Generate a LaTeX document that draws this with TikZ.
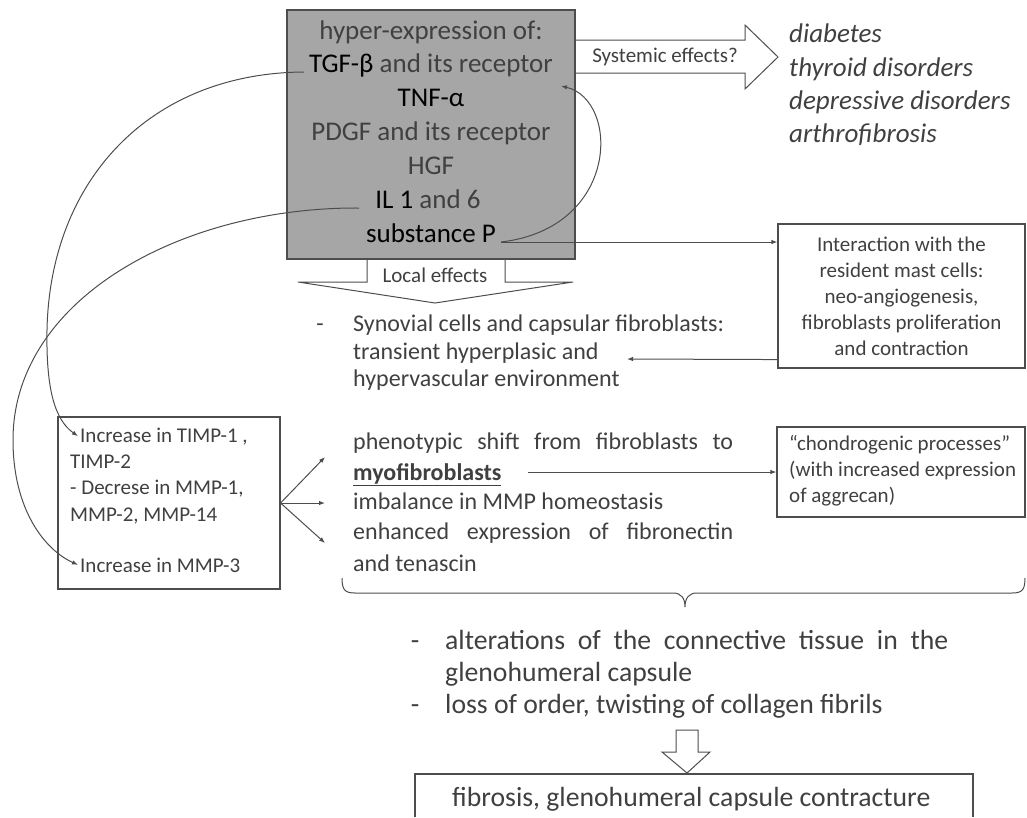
\documentclass[tikz,border=0pt]{standalone}
\usepackage{fontspec}
\setmainfont{Carlito}
\usetikzlibrary{arrows.meta}

\definecolor{txtgray}{HTML}{404040}
\definecolor{boxgray}{HTML}{A6A6A6}
\definecolor{linegray}{HTML}{4D4D4D}

\newcommand{\fsBig}{\fontsize{27}{33.3}\selectfont}
\newcommand{\fsLow}{\fontsize{27.7}{32}\selectfont}
\newcommand{\fsMid}{\fontsize{24}{30}\selectfont}
\newcommand{\fsSmall}{\fontsize{21}{26}\selectfont}
\newcommand{\fsTag}{\fontsize{21}{24}\selectfont}

\begin{document}
\begin{tikzpicture}[x=1pt,y=-1pt,
    every node/.style={text=txtgray, inner sep=0pt},
    plainbox/.style={draw=linegray, line width=1.1pt},
    conn/.style={draw=linegray, line width=1pt, -{Latex[length=6pt,width=4.5pt]}},
    hollow/.style={draw=linegray, line width=1pt, line join=miter}]

    \useasboundingbox (0,0) rectangle (1027,817);

    % Factors box
    \node[plainbox, fill=boxgray, minimum width=288pt, minimum height=249pt] (factors) at (431,134.5) {};
    \node[font=\fsBig, anchor=base] (hyp) at (431,39) {hyper-expression of:};
    \node[font=\fsBig, anchor=base] (tgf) at (431,72) {\textcolor{black}{TGF-β} and its receptor};
    \node[font=\fsBig, anchor=base, text=black] (tnf) at (431,106) {TNF-α};
    \node[font=\fsBig, anchor=base] (pdgf) at (431,140) {PDGF and its receptor};
    \node[font=\fsBig, anchor=base] (hgf) at (431,174) {HGF};
    \node[font=\fsBig, anchor=base] (il) at (428,208) {\textcolor{black}{IL 1} and 6};
    \node[font=\fsBig, anchor=base, text=black] (subp) at (431,242) {substance P};

    % Systemic effects
    \draw[hollow] (575,40) -- (745,40) -- (745,25) -- (778,57) -- (745,89) -- (745,73) -- (575,73);
    \node[font=\fsTag, anchor=base] (sys) at (665,62) {Systemic effects?};
    \node[font=\fsBig\itshape, anchor=west, align=left] (dis) at (789,85)
        {diabetes\\thyroid disorders\\depressive disorders\\arthrofibrosis};

    % Local effects
    \draw[hollow] (367,259) -- (367,282) -- (298,282) -- (435,303) -- (573,282) -- (505,282) -- (505,259);
    \node[font=\fsTag, anchor=base] (loc) at (435,282) {Local effects};

    \node[font=\fsMid, anchor=base] (dash1) at (320,331) {-};
    \node[font=\fsMid, anchor=base west] (syn1) at (353,331) {Synovial cells and capsular fibroblasts:};
    \node[font=\fsMid, anchor=base west] (syn2) at (353,359) {transient hyperplasic and};
    \node[font=\fsMid, anchor=base west] (syn3) at (353,386) {hypervascular environment};

    % Mast cells
    \node[plainbox, minimum width=247pt, minimum height=144pt, align=center, font=\fsSmall] (inter) at (901.5,296)
        {Interaction with the\\resident mast cells:\\neo-angiogenesis,\\fibroblasts proliferation\\and contraction};
    \coordinate (syntip) at (627,359);

    % Matrix changes
    \node[plainbox, minimum width=222pt, minimum height=172pt] (lbox) at (169,503) {};
    \node[font=\fsSmall, anchor=base west] (inc1) at (80,442) {Increase in TIMP-1 ,};
    \node[font=\fsSmall, anchor=base west] (timp) at (70,468) {TIMP-2};
    \node[font=\fsSmall, anchor=base west] (dec) at (70,494) {- Decrese in MMP-1,};
    \node[font=\fsSmall, anchor=base west] (mmp) at (70,521) {MMP-2, MMP-14};
    \node[font=\fsSmall, anchor=base west] (inc3) at (80,572) {Increase in MMP-3};
    \coordinate (fanA) at (325,457);
    \coordinate (fanB) at (325,503);
    \coordinate (fanC) at (325,543);

    \node[font=\fsMid, anchor=base west] (ph1) at (353,449) {\makebox[380pt][s]{phenotypic shift from fibroblasts to}};
    \node[font=\fsMid\bfseries, anchor=base west] (myo) at (353,480) {\underline{myofibroblasts}};
    \node[font=\fsMid, anchor=base west] (imb) at (353,509) {imbalance in MMP homeostasis};
    \node[font=\fsMid, anchor=base west] (enh1) at (353,539) {\makebox[380pt][s]{enhanced expression of fibronectin}};
    \node[font=\fsMid, anchor=base west] (enh2) at (353,571) {and tenascin};

    \node[plainbox, minimum width=248pt, minimum height=90pt] (chon) at (901,472) {};
    \node[font=\fsSmall, anchor=west, align=left] (chontxt) at (789,471)
        {“chondrogenic processes”\\(with increased expression\\of aggrecan)};

    % Brace
    \draw[linegray, line width=1pt] (342,578) .. controls (342,590) and (345,593) .. (355,593) -- (673,593)
        .. controls (681,593) and (685,598) .. (685,607) .. controls (685,598) and (689,593) .. (697,593)
        -- (1012,593) .. controls (1022,593) and (1025,590) .. (1025,578);

    % Outcome
    \node[font=\fsLow, anchor=base] (dash2) at (415,649) {-};
    \node[font=\fsLow, anchor=base west] (alt1) at (445,649) {\makebox[503pt][s]{alterations of the connective tissue in the}};
    \node[font=\fsLow, anchor=base west] (alt2) at (445,681) {glenohumeral capsule};
    \node[font=\fsLow, anchor=base] (dash3) at (415,713) {-};
    \node[font=\fsLow, anchor=base west] (loss) at (445,713) {loss of order, twisting of collagen fibrils};

    \draw[hollow] (676,730) -- (698,730) -- (698,752) -- (710,752) -- (687,773) -- (662,752) -- (676,752) -- cycle;
    \draw[plainbox] (415,817) |- (973,774) -- (973,817);
    \node[font=\fsLow, anchor=base west] (fib) at (452,806) {fibrosis, glenohumeral capsule contracture};

    % Connectors
    \coordinate (tgfout) at ([xshift=-5pt]tgf.base west);
    \coordinate (ilout) at ([xshift=-16pt]il.base west);
    \coordinate (subpout) at ([xshift=5pt]subp.base east);
    \coordinate (backtip) at (561,86);

    \draw[conn] (tgfout) .. controls (150,73) and (50,180) .. (47,330)
        .. controls (46,390) and (55,420) .. ([xshift=-2pt]inc1.west);
    \draw[conn] (ilout) .. controls (180,207) and (13,300) .. (13,440)
        .. controls (13,510) and (45,550) .. ([xshift=-2pt]inc3.west);
    \draw[conn] (subpout) .. controls (620,228) and (620,100) .. (backtip);
    \draw[conn] (subpout) -- (subpout -| inter.west);
    \draw[conn] ([yshift=9pt]inter.south west) -- (syntip);
    \draw[conn] (lbox.east) -- (fanA);
    \draw[conn] (lbox.east) -- (fanB);
    \draw[conn] (lbox.east) -- (fanC);
    \draw[conn] ([xshift=26pt]myo.east |- chon.west) -- (chon.west);
\end{tikzpicture}
\end{document}
